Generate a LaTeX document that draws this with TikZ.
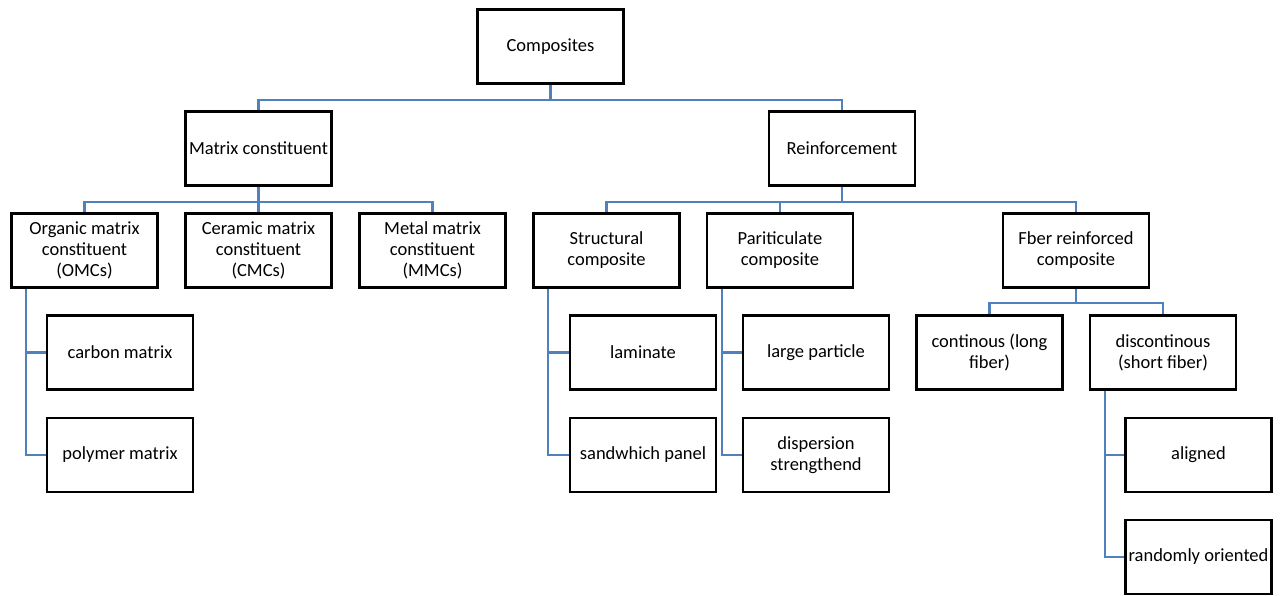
\documentclass[tikz,border=0pt]{standalone}
\usepackage{fontspec}
\setmainfont{Carlito}
\definecolor{connblue}{RGB}{79,129,189}
\begin{document}
\begin{tikzpicture}[x=1pt,y=-1pt,
  box/.style={draw=black,line width=2.6pt,minimum width=146pt,minimum height=74pt,
    inner sep=0pt,align=center,font=\fontsize{18.5}{21}\selectfont},
  conn/.style={draw=connblue,line width=2.2pt}]
\useasboundingbox (0,0) rectangle (1282,595);
\node[box] (comp) at (550.5,46.5) {Composites};
\node[box] (matrix) at (258.5,148.5) {Matrix constituent};
\node[box] (reinf) at (842,148.5) {Reinforcement};
\node[box] (organic) at (84.5,250.5) {Organic matrix\\constituent\\(OMCs)};
\node[box] (ceramic) at (258.5,250.5) {Ceramic matrix\\constituent\\(CMCs)};
\node[box] (metal) at (432.5,250.5) {Metal matrix\\constituent\\(MMCs)};
\node[box] (struct) at (606.5,250.5) {Structural\\composite};
\node[box] (part) at (780,250.5) {Pariticulate\\composite};
\node[box] (fiber) at (1076,250.5) {Fber reinforced\\composite};
\node[box] (carbon) at (120,352.5) {carbon matrix};
\node[box] (polymer) at (120,455) {polymer matrix};
\node[box] (laminate) at (643,352.5) {laminate};
\node[box] (sandwich) at (643,455) {sandwhich panel};
\node[box] (large) at (816,352.5) {large particle};
\node[box] (disp) at (816,455) {dispersion\\strengthend};
\node[box] (cont) at (989.5,352.5) {continous (long\\fiber)};
\node[box] (disc) at (1163,352.5) {discontinous\\(short fiber)};
\node[box] (aligned) at (1198.5,455) {aligned};
\node[box] (random) at (1198.5,557) {randomly oriented};
% connectors
\draw[conn] (comp.south) -- ++(0,15) -| (matrix.north);
\draw[conn] (comp.south) -- ++(0,15) -| (reinf.north);
\draw[conn] (matrix.south) -- ++(0,15) -| (organic.north);
\draw[conn] (matrix.south) -- (ceramic.north);
\draw[conn] (matrix.south) -- ++(0,15) -| (metal.north);
\draw[conn] (reinf.south) -- ++(0,15) -| (struct.north);
\draw[conn] (reinf.south) -- ++(0,15) -| (part.north);
\draw[conn] (reinf.south) -- ++(0,15) -| (fiber.north);
\draw[conn] (fiber.south) -- ++(0,14.5) -| (cont.north);
\draw[conn] (fiber.south) -- ++(0,14.5) -| (disc.north);
\draw[conn] ([xshift=16pt]organic.south west) |- (carbon.west);
\draw[conn] ([xshift=16pt]organic.south west) |- (polymer.west);
\draw[conn] ([xshift=16pt]struct.south west) |- (laminate.west);
\draw[conn] ([xshift=16pt]struct.south west) |- (sandwich.west);
\draw[conn] ([xshift=16pt]part.south west) |- (large.west);
\draw[conn] ([xshift=16pt]part.south west) |- (disp.west);
\draw[conn] ([xshift=16pt]disc.south west) |- (aligned.west);
\draw[conn] ([xshift=16pt]disc.south west) |- (random.west);
\end{tikzpicture}
\end{document}
